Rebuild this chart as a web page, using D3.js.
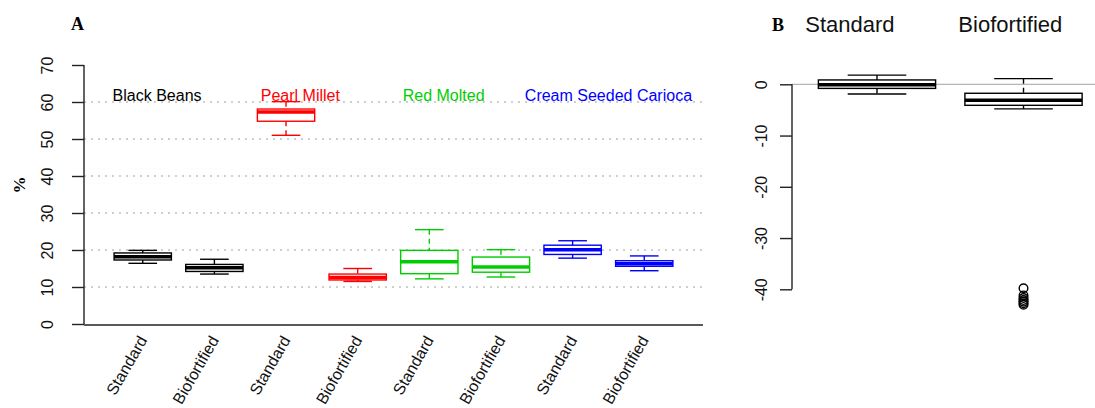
<!DOCTYPE html>
<html>
<head>
<meta charset="utf-8">
<script src="https://cdn.jsdelivr.net/npm/d3@7"></script>
<style>
  body { margin: 0; background: #fff; }
  svg { display: block; }
  text { font-family: "Liberation Sans", Arial, sans-serif; }
  .panel-letter { font-family: "Liberation Serif", "Times New Roman", serif; font-weight: bold; }
</style>
</head>
<body>
<div id="chart"></div>
<script>
// Panel A: retention (%) per crop and variety
const groupNames = ['Black Beans', 'Pearl Millet', 'Red Molted', 'Cream Seeded Carioca'];
const groupLabelPos = [1.2, 3.2, 5.2, 7.5];   // x of the group name, in box index units
const categoriesA = ['Standard', 'Biofortified', 'Standard', 'Biofortified',
                     'Standard', 'Biofortified', 'Standard', 'Biofortified'];
const groupOfBox = [0, 0, 1, 1, 2, 2, 3, 3];
const lowA  = [16.4, 13.5, 51.0, 11.5, 12.2, 12.7, 17.8, 14.4];
const q1A   = [17.3, 14.2, 54.8, 11.9, 13.6, 14.0, 18.8, 15.6];
const medA  = [18.2, 15.2, 57.3, 12.6, 16.8, 15.4, 20.1, 16.3];
const q3A   = [19.2, 16.1, 58.1, 13.5, 19.9, 18.1, 21.3, 17.1];
const highA = [19.9, 17.5, 60.1, 15.0, 25.5, 20.1, 22.5, 18.4];
const ticksA = [0, 10, 20, 30, 40, 50, 60, 70];
const gridA = [10, 20, 30, 40, 50, 60];

// Panel B: change, standard vs biofortified
const categoriesB = ['Standard', 'Biofortified'];
const headerPosB = [0.815, 1.91];
const lowB  = [-1.9, -4.8];
const q1B   = [-0.8, -4.1];
const medB  = [-0.1, -3.1];
const q3B   = [0.85, -1.75];
const highB = [1.8, 1.1];
const outliersB = [[], [-39.8, -41.2, -41.7, -42.1, -42.4, -42.7, -43.0]];
const ticksB = [0, -10, -20, -30, -40];

const COLORS = ['#000000', '#ff0000', '#00cd00', '#0000ff'];

const W = 1095, H = 408;
const svg = d3.select('#chart').append('svg')
  .attr('width', W).attr('height', H);

// draws R-style boxplots (dashed whiskers, staples, thick median)
function drawBoxes(g, x, y, n, low, q1, med, q3, high, colorOf, boxW) {
  for (let i = 0; i < n; i++) {
    const cx = x(i + 1);
    const b = g.append('g').attr('stroke', colorOf(i)).attr('fill', 'none');
    [[high[i], q3[i]], [q1[i], low[i]]].forEach(([a, c]) => {
      b.append('line').attr('x1', cx).attr('x2', cx)
        .attr('y1', y(a)).attr('y2', y(c))
        .attr('stroke-width', 1.4).attr('stroke-dasharray', '5,4');
    });
    [low[i], high[i]].forEach(v => {
      b.append('line').attr('x1', cx - boxW / 4).attr('x2', cx + boxW / 4)
        .attr('y1', y(v)).attr('y2', y(v)).attr('stroke-width', 1.4);
    });
    b.append('rect')
      .attr('x', cx - boxW / 2).attr('width', boxW)
      .attr('y', y(q3[i])).attr('height', y(q1[i]) - y(q3[i]))
      .attr('stroke-width', 1.4);
    b.append('line').attr('x1', cx - boxW / 2).attr('x2', cx + boxW / 2)
      .attr('y1', y(med[i])).attr('y2', y(med[i])).attr('stroke-width', 3.5);
  }
}

// left axis with R-like rotated labels
function leftAxis(g, scale, ticks, x0, lo, hi, labelOffset) {
  const ax = g.append('g').attr('transform', `translate(${x0},0)`)
    .call(d3.axisLeft(scale).tickValues(ticks).tickSize(12).tickSizeOuter(0).tickPadding(0));
  ax.select('.domain').attr('stroke', '#222').attr('stroke-width', 1.4)
    .attr('d', `M0,${scale(lo)}V${scale(hi)}`);
  ax.selectAll('.tick line').attr('stroke', '#222').attr('stroke-width', 1.4);
  ax.selectAll('.tick text')
    .attr('font-size', 16).attr('fill', '#111').attr('text-anchor', 'middle')
    .attr('x', 0).attr('y', 0).attr('dy', 0)
    .attr('transform', `translate(${-labelOffset},0) rotate(-90)`)
    .text(d => d);
  return ax;
}

// ---------- Panel A ----------
const xA = d3.scaleLinear().domain([0.18, 8.82]).range([84, 703]);
const yA = d3.scaleLinear().domain([0, 70]).range([324, 65]);
const gA = svg.append('g');

gA.append('text').attr('class', 'panel-letter')
  .attr('x', 71).attr('y', 30).attr('font-size', 18).text('A');

gA.append('text').attr('class', 'panel-letter')
  .attr('transform', 'translate(25,185) rotate(-90)')
  .attr('text-anchor', 'middle').attr('font-size', 17).text('%');

gA.selectAll('.gridA').data(gridA).join('line')
  .attr('x1', xA(0.18)).attr('x2', xA(8.82))
  .attr('y1', d => yA(d)).attr('y2', d => yA(d))
  .attr('stroke', '#a0a0a0').attr('stroke-width', 1.2)
  .attr('stroke-dasharray', '2,5');

leftAxis(gA, yA, ticksA, xA(0.18), 0, 70, 31);

// x axis line, no ticks
gA.append('line').attr('x1', xA(0.18)).attr('x2', xA(8.82))
  .attr('y1', yA(0) + 1).attr('y2', yA(0) + 1)
  .attr('stroke', '#222').attr('stroke-width', 1.6);

gA.selectAll('.xlab').data(categoriesA).join('text')
  .attr('transform', (d, i) => `translate(${xA(i + 1) + 5},${yA(0) + 16}) rotate(-60)`)
  .attr('text-anchor', 'end').attr('font-size', 16).attr('fill', '#111')
  .text(d => d);

gA.selectAll('.glab').data(groupNames).join('text')
  .attr('x', (d, i) => xA(groupLabelPos[i])).attr('y', yA(60.3))
  .attr('text-anchor', 'middle').attr('font-size', 16)
  .attr('fill', (d, i) => COLORS[i]).text(d => d);

drawBoxes(gA, xA, yA, categoriesA.length, lowA, q1A, medA, q3A, highA,
  i => COLORS[groupOfBox[i]], (xA(1) - xA(0)) * 0.8);

// ---------- Panel B ----------
const xB = d3.scaleLinear().domain([0.42, 2.58]).range([792, 1108.5]);
const yB = d3.scaleLinear().domain([0, -40]).range([84.3, 289.3]);
const gB = svg.append('g');

gB.append('text').attr('class', 'panel-letter')
  .attr('x', 772).attr('y', 31).attr('font-size', 18).text('B');

gB.selectAll('.hdr').data(categoriesB).join('text')
  .attr('x', (d, i) => xB(headerPosB[i])).attr('y', 32)
  .attr('text-anchor', 'middle').attr('font-size', 22).attr('fill', '#111')
  .text(d => d);

gB.append('line').attr('x1', xB(0.42)).attr('x2', W)
  .attr('y1', yB(0)).attr('y2', yB(0))
  .attr('stroke', '#b5b5b5').attr('stroke-width', 1.3);

leftAxis(gB, yB, ticksB, xB(0.42), 0, -40, 25);

drawBoxes(gB, xB, yB, categoriesB.length, lowB, q1B, medB, q3B, highB,
  () => '#000', (xB(1) - xB(0)) * 0.8);

outliersB.forEach((arr, i) => {
  gB.selectAll(`.out${i}`).data(arr).join('circle')
    .attr('cx', xB(i + 1)).attr('cy', d => yB(d)).attr('r', 4.3)
    .attr('fill', 'none').attr('stroke', '#000').attr('stroke-width', 1.4);
});
</script>
</body>
</html>
